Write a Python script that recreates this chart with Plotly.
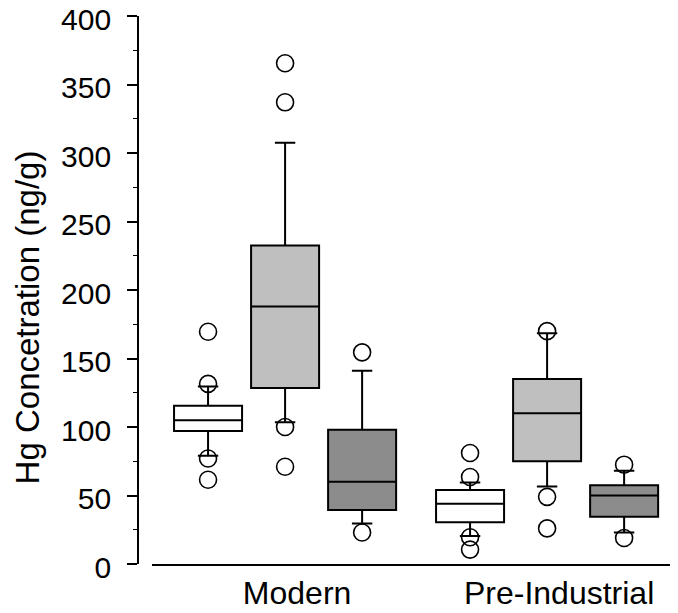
import plotly.graph_objects as go

categories = ["Modern", "Pre-Industrial"]
series_names = ["Group A", "Group B", "Group C"]

# Precomputed box statistics per series: [Modern, Pre-Industrial]
q1_a = [97.0, 30.5]
med_a = [105.0, 44.0]
q3_a = [115.5, 54.0]
lo_a = [79.0, 20.5]
hi_a = [129.5, 59.5]
out_a = [[169.5, 131.5, 77.0, 61.5], [81.0, 63.5, 19.5, 10.5]]

q1_b = [128.5, 75.0]
med_b = [188.0, 110.0]
q3_b = [232.5, 135.0]
lo_b = [103.5, 56.5]
hi_b = [307.5, 168.5]
out_b = [[365.5, 337.0, 100.0, 71.0], [170.0, 49.0, 26.0]]

q1_c = [39.5, 34.5]
med_c = [60.0, 50.0]
q3_c = [98.0, 57.5]
lo_c = [29.5, 23.0]
hi_c = [141.0, 68.0]
out_c = [[154.5, 23.0], [72.5, 19.0]]

fills = ["#ffffff", "#bfbfbf", "#8c8c8c"]

y_ticks = [0, 50, 100, 150, 200, 250, 300, 350, 400]
y_title = "Hg Concetration (ng/g)"

fig = go.Figure()
stats = [
    (q1_a, med_a, q3_a, lo_a, hi_a, out_a),
    (q1_b, med_b, q3_b, lo_b, hi_b, out_b),
    (q1_c, med_c, q3_c, lo_c, hi_c, out_c),
]
for name, fill, (q1, med, q3, lo, hi, out) in zip(series_names, fills, stats):
    fig.add_trace(go.Box(
        name=name,
        x=categories,
        y=out,
        q1=q1, median=med, q3=q3,
        lowerfence=lo, upperfence=hi,
        boxpoints="outliers",
        jitter=0, pointpos=0,
        fillcolor=fill,
        line=dict(color="black", width=2),
        whiskerwidth=0.3,
        marker=dict(symbol="circle-open", size=17, color="black",
                    line=dict(width=1.6, color="black")),
        showlegend=False,
    ))

# The page body adds an 8px offset, so the figure is 8px smaller than the window.
fig.update_layout(
    width=670, height=605,
    boxmode="group",
    boxgap=0.118, boxgroupgap=0.117,
    plot_bgcolor="white", paper_bgcolor="white",
    margin=dict(l=130, r=2, t=8, b=49),
    font=dict(family="Liberation Sans, Arial, sans-serif", size=30, color="black"),
    xaxis=dict(
        domain=[0.026, 1],
        range=[-0.508, 1.492],
        showline=True, linecolor="black", linewidth=1.5,
        ticks="", showgrid=False, zeroline=False,
        tickfont=dict(size=32),
        ticklabelshift=12,
        automargin=False,
    ),
    yaxis=dict(
        anchor="free", position=0,
        range=[0, 400],
        tickvals=y_ticks,
        ticks="outside", ticklen=10, tickwidth=1.5, tickcolor="black",
        minor=dict(ticks="outside", ticklen=4, dtick=25, tickcolor="black", tickwidth=1.2),
        showline=True, linecolor="black", linewidth=1.8,
        showgrid=False, zeroline=False,
        tickfont=dict(size=30),
        ticklabelstandoff=10,
        ticklabelshift=3,
        ticklabeloverflow="allow",
        automargin=False,
    ),
    annotations=[dict(
        text=y_title, textangle=-90,
        xref="paper", yref="paper", x=0, y=0.45,
        xshift=-111, xanchor="center", yanchor="middle",
        showarrow=False, font=dict(size=33),
    )],
)

fig.write_html("out.html")
